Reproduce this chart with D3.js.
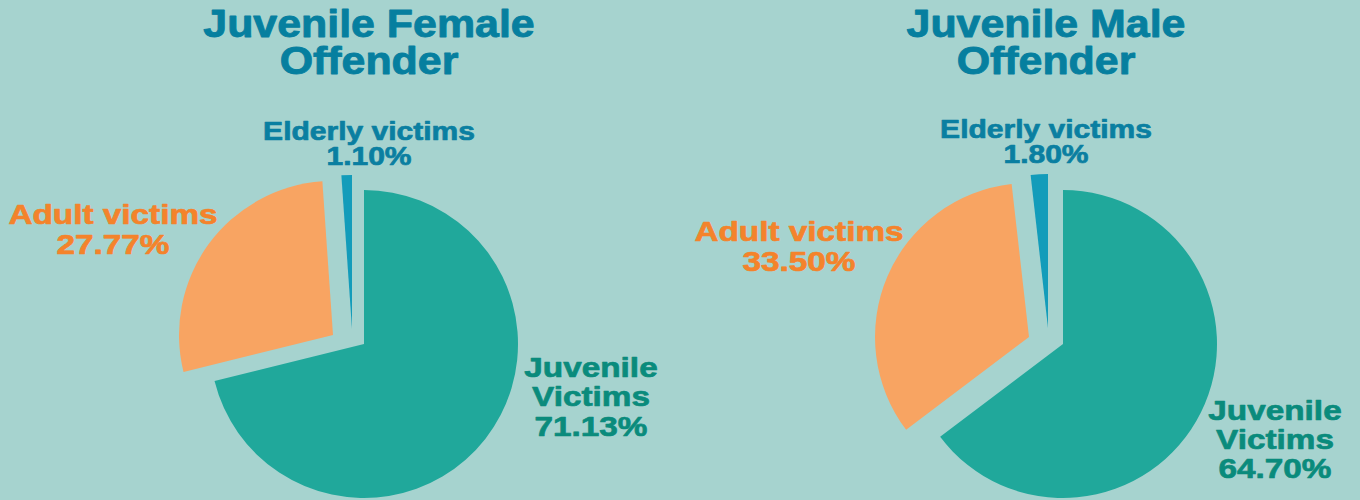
<!DOCTYPE html>
<html>
<head>
<meta charset="utf-8">
<script src="https://cdn.jsdelivr.net/npm/d3@7"></script>
<style>
  html, body { margin: 0; padding: 0; background: #a6d3cf; }
  svg { display: block; }
  text { font-family: "Liberation Sans", Arial, sans-serif; font-weight: bold; }
</style>
</head>
<body>
<svg id="chart" width="1360" height="500"></svg>
<script>
// ---- data ----
const categories = ["Juvenile Victims", "Adult victims", "Elderly victims"];
const labelLines = [["Juvenile", "Victims"], ["Adult victims"], ["Elderly victims"]];
const femaleValues = [71.13, 27.77, 1.10];
const maleValues = [64.70, 33.50, 1.80];
const chartTitles = [["Juvenile Female", "Offender"], ["Juvenile Male", "Offender"]];

// ---- layout / style ----
const W = 1360, H = 500;
const sliceColors = ["#20a89b", "#f8a462", "#139cba"];
const labelColors = ["#0a8b7c", "#f4832b", "#0a7fa1"];
const titleColor = "#067f9f";
const R = 154;

const charts = [
  {
    values: femaleValues, title: chartTitles[0],
    center: [364, 344],
    offsets: [[0, 0], [-31, -9], [-12, -15]],
    titleX: 369,
    labels: [
      {x: 591, y: 377, size: 28, lh: 29.5, sx: 1.19},
      {x: 113, y: 224, size: 28, lh: 30, sx: 1.19},
      {x: 369, y: 140, size: 25, lh: 25, sx: 1.2}
    ]
  },
  {
    values: maleValues, title: chartTitles[1],
    center: [1063, 344],
    offsets: [[0, 0], [-34, -7], [-15, -16]],
    titleX: 1046,
    labels: [
      {x: 1275, y: 420, size: 28, lh: 29, sx: 1.19},
      {x: 799, y: 241, size: 28, lh: 30, sx: 1.19},
      {x: 1046, y: 138, size: 25, lh: 25, sx: 1.2}
    ]
  }
];

const svg = d3.select("#chart");
svg.append("rect").attr("width", W).attr("height", H).attr("fill", "#a6d3cf");

const pie = d3.pie().sort(null).value(d => d);
const arc = d3.arc().innerRadius(0).outerRadius(R);

function multiline(x, y, lines, size, lh, sx, color, sw) {
  const t = svg.append("text")
    .attr("transform", `translate(${x},${y}) scale(${sx},1)`)
    .attr("text-anchor", "middle")
    .attr("font-size", size)
    .attr("fill", color)
    .attr("stroke", color)
    .attr("stroke-width", sw)
    .attr("stroke-linejoin", "round");
  lines.forEach((line, k) => {
    t.append("tspan").attr("x", 0).attr("y", k * lh).text(line);
  });
}

charts.forEach(ch => {
  const g = svg.append("g").attr("transform", `translate(${ch.center[0]},${ch.center[1]})`);
  const arcs = pie(ch.values);
  g.selectAll("path")
    .data(arcs)
    .join("path")
    .attr("d", arc)
    .attr("fill", (d, i) => sliceColors[i])
    .attr("transform", (d, i) => `translate(${ch.offsets[i][0]},${ch.offsets[i][1]})`);

  // title
  multiline(ch.titleX, 37, ch.title, 39, 37, 1.1, titleColor, 0.9);

  // labels
  arcs.forEach((a, i) => {
    const L = ch.labels[i];
    const lines = labelLines[i].concat([a.data.toFixed(2) + "%"]);
    multiline(L.x, L.y, lines, L.size, L.lh, L.sx, labelColors[i], 0.7);
  });
});
</script>
</body>
</html>
